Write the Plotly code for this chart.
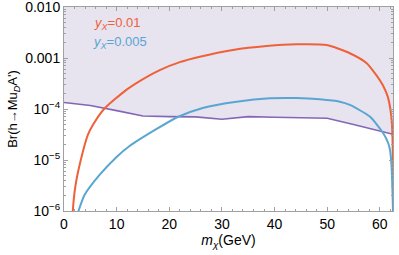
import plotly.graph_objects as go

# ---- data ----
red_m = [1.62, 1.67, 2.19, 3.27, 4.53, 5.48, 7.57, 11.9, 14.7, 18.2, 22.0, 25.8, 32.1, 38.5, 44.2, 49.9,
         54.3, 57.5, 59.4, 60.6, 61.5, 62.0, 62.3, 62.45, 62.49, 62.5]
red_v = [7e-7, 1e-6, 3.2e-6, 1.08e-5, 3.1e-5, 4.85e-5, 9.9e-5, 2.4e-4, 3.7e-4, 5.8e-4, 8.3e-4, 1.06e-3,
         1.44e-3, 1.72e-3, 1.86e-3, 1.8e-3, 1.24e-3, 7.9e-4, 4.5e-4, 2.9e-4, 1.75e-4, 1.0e-4, 5e-5, 1.5e-5,
         2e-6, 5e-7]

blue_m = [2.7, 2.76, 3.14, 3.9, 6.75, 9.99, 12.46, 17.6, 21.6, 26.35, 32.8, 39.1, 44.2, 48.6, 52.4, 54.3,
          58.1, 60.65, 61.6, 61.93, 62.21, 62.4, 62.49, 62.5]
blue_v = [8e-7, 1e-6, 1.31e-6, 2.06e-6, 5.1e-6, 1.15e-5, 1.88e-5, 4.06e-5, 6.97e-5, 1.05e-4, 1.39e-4, 1.62e-4,
          1.64e-4, 1.55e-4, 1.39e-4, 1.2e-4, 7.1e-5, 3.34e-5, 2.13e-5, 1.58e-5, 7.9e-6, 2.6e-6, 1.1e-6, 5e-7]

lim_m = [0, 5, 10, 15, 20, 25, 30, 35, 40, 45, 50, 55, 60, 62.5]
lim_v = [1.34e-4, 1.17e-4, 9.3e-5, 7.3e-5, 7.1e-5, 7.0e-5, 6.3e-5, 7.1e-5, 6.9e-5, 6.8e-5, 6.6e-5,
         4.97e-5, 3.77e-5, 3.19e-5]
y_top = 1e-2

ytick_vals = [1e-6, 1e-5, 1e-4, 1e-3, 1e-2]
ytick_text = ["10<sup>−6</sup>", "10<sup>−5</sup>", "10<sup>−4</sup>", "0.001", "0.010"]
xtick_vals = [0, 10, 20, 30, 40, 50, 60]

RED = "#EF6139"
BLUE = "#5AA6D2"
PURPLE = "#8467B4"
FILL = "#E7E3EF"
FRAME = "#A0A0A0"
FONT = "Liberation Sans"

fig = go.Figure()
# shaded excluded region
fig.add_trace(go.Scatter(
    x=lim_m + lim_m[::-1], y=lim_v + [y_top] * len(lim_m),
    fill="toself", fillcolor=FILL, line=dict(width=0), mode="lines",
    hoverinfo="skip", showlegend=False))
fig.add_trace(go.Scatter(x=lim_m, y=lim_v, mode="lines",
                         line=dict(color=PURPLE, width=1.6), showlegend=False))
fig.add_trace(go.Scatter(x=red_m, y=red_v, mode="lines",
                         line=dict(color=RED, width=2, shape="spline", smoothing=0.6), showlegend=False))
fig.add_trace(go.Scatter(x=blue_m, y=blue_v, mode="lines",
                         line=dict(color=BLUE, width=2, shape="spline", smoothing=0.6), showlegend=False))

fig.add_annotation(x=5.4, y=-2.314, xref="x", yref="y", text="<i>y<sub>X</sub></i>=0.01",
                   showarrow=False, xanchor="left", yanchor="middle",
                   font=dict(color=RED, size=13, family=FONT))
fig.add_annotation(x=5.2, y=-2.70, xref="x", yref="y", text="<i>y<sub>X</sub></i>=0.005",
                   showarrow=False, xanchor="left", yanchor="middle",
                   font=dict(color=BLUE, size=13, family=FONT))

fig.update_layout(
    width=399, height=255,
    margin=dict(l=64, r=6, t=7, b=44, autoexpand=False),
    plot_bgcolor="white", paper_bgcolor="white",
    font=dict(family=FONT, size=14, color="black"),
    xaxis=dict(range=[0, 62.5], tickvals=xtick_vals, ticks="inside", ticklen=4,
               tickcolor=FRAME, showline=True, linecolor=FRAME, linewidth=1, mirror="allticks",
               showgrid=False, zeroline=False, automargin=False, ticklabeloverflow="allow",
               minor=dict(ticks="inside", ticklen=2, dtick=2, tick0=0, tickcolor=FRAME, showgrid=False),
               title=dict(text="<i>m</i><sub><i>χ</i></sub>(GeV)", font=dict(size=14), standoff=4),
               tickfont=dict(size=14)),
    yaxis=dict(type="log", range=[-6.0001, -1.9999], tickvals=ytick_vals, ticktext=ytick_text,
               ticks="inside", ticklen=4, tickcolor=FRAME, showline=True, linecolor=FRAME, linewidth=1,
               mirror="allticks", showgrid=False, zeroline=False, automargin=False,
               ticklabeloverflow="allow",
               minor=dict(ticks="inside", ticklen=2, dtick="D1", tickcolor=FRAME, showgrid=False),
               title=dict(text="Br(h→Mu<sub><i>D</i></sub>A')", font=dict(size=13), standoff=4),
               tickfont=dict(size=14)),
)

fig.write_html("out.html", config={"displayModeBar": False},
               post_script="document.body.style.margin='0';document.body.style.padding='0';")
